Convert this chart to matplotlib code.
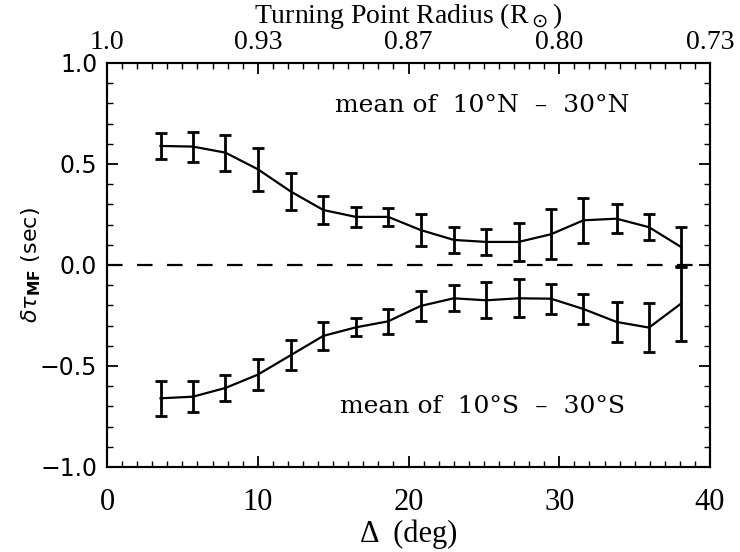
import numpy as np
import matplotlib.pyplot as plt
from matplotlib.ticker import MultipleLocator

# ── Data ─────────────────────────────────────────────────────────────────────
delta_deg = [3.55, 5.7, 7.85, 10.0, 12.2, 14.35, 16.5, 18.65, 20.8,
             23.0, 25.15, 27.3, 29.45, 31.6, 33.8, 35.95, 38.1]

north_tau = [0.589, 0.586, 0.556, 0.474, 0.363, 0.272, 0.238, 0.238, 0.173,
             0.124, 0.114, 0.114, 0.152, 0.221, 0.229, 0.187, 0.088]
north_err = [0.065, 0.074, 0.089, 0.107, 0.093, 0.068, 0.048, 0.046, 0.081,
             0.065, 0.066, 0.094, 0.124, 0.110, 0.072, 0.063, 0.099]

south_tau = [-0.660, -0.652, -0.609, -0.543, -0.446, -0.351, -0.309, -0.279, -0.203,
             -0.165, -0.175, -0.165, -0.167, -0.218, -0.282, -0.310, -0.190]
south_err = [0.088, 0.076, 0.063, 0.076, 0.076, 0.071, 0.045, 0.062, 0.073,
             0.065, 0.089, 0.094, 0.075, 0.076, 0.097, 0.120, 0.184]

top_tick_pos = [0, 10, 20, 30, 40]
top_tick_labels = ["1.0", "0.93", "0.87", "0.80", "0.73"]

# ── Style ────────────────────────────────────────────────────────────────────
LINE_COLOR = "#000000"
SERIF = "Liberation Serif"
TEXT_SERIF = "DejaVu Serif"
AX_LEFT, AX_RIGHT, AX_BOTTOM, AX_TOP = 0.1446, 0.9595, 0.154, 0.886

plt.rcParams.update({
    "axes.linewidth":    1.5,
    "xtick.direction":   "in",
    "ytick.direction":   "in",
    "xtick.major.size":  8,
    "xtick.minor.size":  4,
    "ytick.major.size":  8,
    "ytick.minor.size":  4,
    "xtick.major.width": 1.3,
    "xtick.minor.width": 1.0,
    "ytick.major.width": 1.3,
    "ytick.minor.width": 1.0,
})

fig = plt.figure(figsize=(7.4, 5.52), dpi=100)
ax = fig.add_axes([AX_LEFT, AX_BOTTOM, AX_RIGHT - AX_LEFT, AX_TOP - AX_BOTTOM])

for tau, err in [(north_tau, north_err), (south_tau, south_err)]:
    ax.errorbar(delta_deg, tau, yerr=err, color=LINE_COLOR, lw=1.6,
                elinewidth=2.0, capsize=4.5, capthick=2.0)

ax.axhline(0.0, color=LINE_COLOR, lw=1.6, ls=(0, (7, 6.5)))

ax.text(24.9, 0.79, "mean of  10°N  –  30°N", fontsize=18, family=TEXT_SERIF,
        ha="center", va="center")
ax.text(24.9, -0.70, "mean of  10°S  –  30°S", fontsize=18, family=TEXT_SERIF,
        ha="center", va="center")

ax.set_xlim(0, 40)
ax.set_ylim(-1.0, 1.0)
ax.xaxis.set_major_locator(MultipleLocator(10))
ax.xaxis.set_minor_locator(MultipleLocator(1))
ax.yaxis.set_major_locator(MultipleLocator(0.5))
ax.yaxis.set_minor_locator(MultipleLocator(0.1))
ax.tick_params(axis="x", which="both", top=False, pad=15)
ax.tick_params(axis="y", which="both", right=True, pad=7)
ax.yaxis.set_major_formatter(plt.FuncFormatter(
    lambda v, p: f"{v:.1f}".replace("-", "\u2212")))

for lab in ax.get_xticklabels():
    lab.set_family(SERIF)
    lab.set_fontsize(22)
for lab in ax.get_yticklabels():
    lab.set_family("DejaVu Sans")
    lab.set_fontsize(17)

ax.set_xlabel("Δ  (deg)", family=SERIF, fontsize=22, labelpad=2)
ax.set_ylabel(r"$\delta\tau_{\mathbf{MF}}$ (sec)", fontsize=16, labelpad=-2)

# top axis: turning point radius
ax_top = ax.twiny()
ax_top.set_xlim(ax.get_xlim())
ax_top.set_xticks(top_tick_pos)
ax_top.set_xticklabels(top_tick_labels, family=SERIF, fontsize=20)
ax_top.xaxis.set_minor_locator(MultipleLocator(1))
ax_top.tick_params(axis="x", which="both", direction="in", pad=6)
fig.text((AX_LEFT + AX_RIGHT) / 2, 1 - 1 / 552, r"Turning Point Radius (R$_\odot$)",
         family=SERIF, fontsize=20, ha="center", va="top")

fig.savefig("out.png", dpi=100)
